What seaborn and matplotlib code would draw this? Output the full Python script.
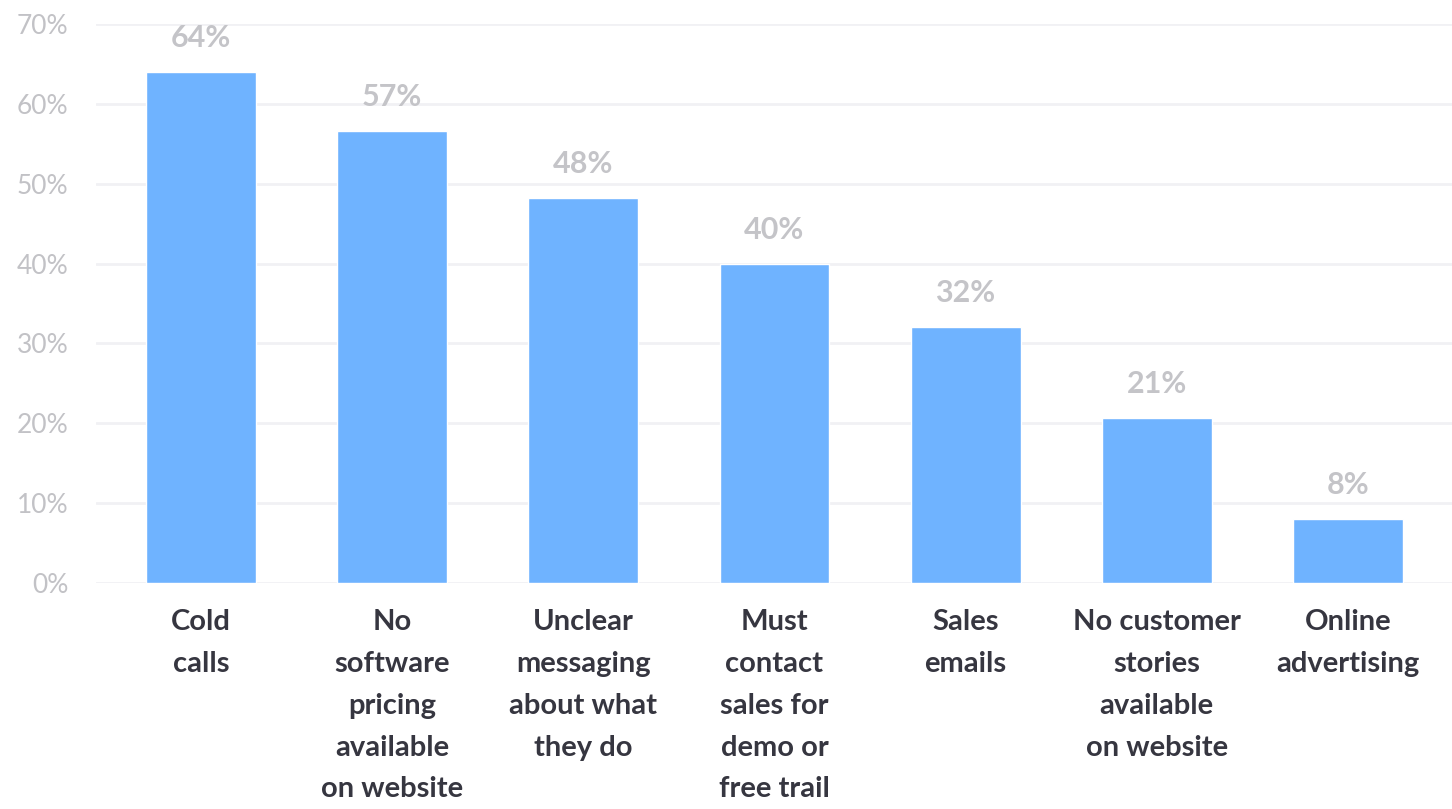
import pandas as pd
import matplotlib.pyplot as plt
import seaborn as sns

# data
categories = [
    "Cold\ncalls",
    "No\nsoftware\npricing\navailable\non website",
    "Unclear\nmessaging\nabout what\nthey do",
    "Must\ncontact\nsales for\ndemo or\nfree trail",
    "Sales\nemails",
    "No customer\nstories\navailable\non website",
    "Online\nadvertising",
]
values = [64.0, 56.6, 48.2, 40.0, 32.0, 20.7, 8.0]
value_labels = ["64%", "57%", "48%", "40%", "32%", "21%", "8%"]
y_ticks = [0, 10, 20, 30, 40, 50, 60, 70]

df = pd.DataFrame({"category": categories, "value": values})

sns.set_theme(style="white")
plt.rcParams["font.family"] = ["Lato", "DejaVu Sans"]

fig = plt.figure(figsize=(14.52, 8.09), dpi=100)
ax = fig.add_axes([0.0661, 0.2794, 0.9339, 0.6909])

sns.barplot(data=df, x="category", y="value", color="#6fb3ff", saturation=1,
            width=0.575, ax=ax)

ax.set_ylim(0, 70)
ax.set_xlim(-0.55, 6.545)
ax.set_yticks(y_ticks)
ax.set_yticklabels([f"{t}%" for t in y_ticks])
ax.set_xticks(range(len(categories)))
ax.set_xticklabels(categories, fontsize=21, fontweight="bold", color="#363640",
                   linespacing=1.75, va="top", ha="center")
ax.yaxis.grid(True, color="#f1f1f4", linewidth=2)
ax.set_axisbelow(True)
for s in ax.spines.values():
    s.set_visible(False)
ax.set_xlabel("")
ax.set_ylabel("")

ax.tick_params(axis="y", length=0, pad=20, labelsize=19, labelcolor="#c2c2c6")
ax.tick_params(axis="x", length=0, pad=19)

# value labels above bars
for i, (v, t) in enumerate(zip(values, value_labels)):
    ax.annotate(t, (i, v), xytext=(0, 20), textcoords="offset pixels",
                ha="center", va="bottom", fontsize=22, fontweight="bold",
                color="#c4c4c8")

fig.savefig("out.png", dpi=100)
